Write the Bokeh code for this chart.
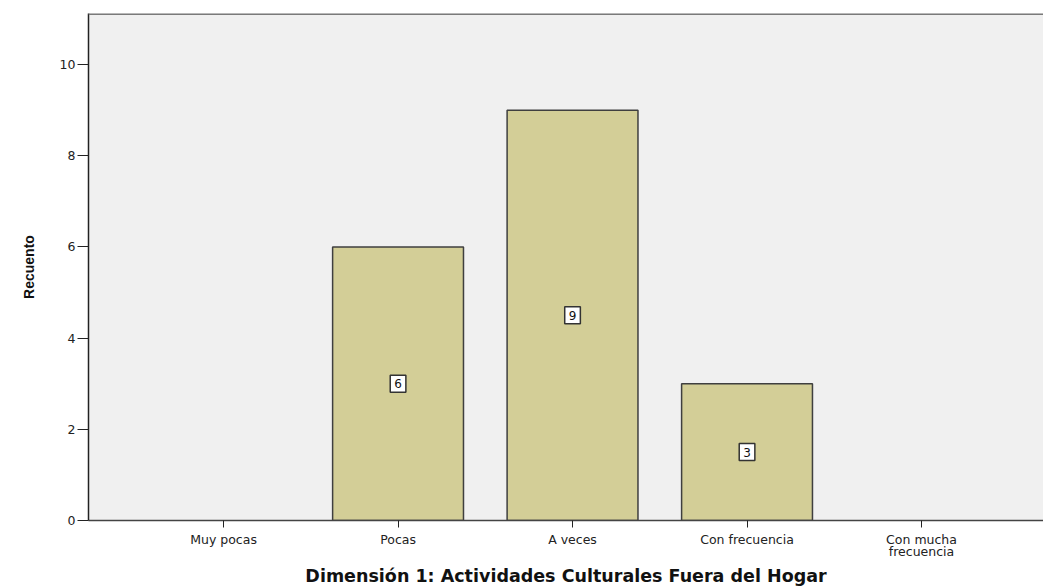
from bokeh.plotting import figure
from bokeh.models import Range1d, FixedTicker, Title, Span, ColumnDataSource
from bokeh.core.properties import value
from bokeh.embed import file_html
from bokeh.resources import INLINE

categories = ["Muy pocas", "Pocas", "A veces", "Con frecuencia", "Con mucha\nfrecuencia"]
counts = [0, 6, 9, 3, 0]
y_ticks = [0, 2, 4, 6, 8, 10]

xs = list(range(len(categories)))
bx = [x for x, c in zip(xs, counts) if c > 0]
bt = [c for c in counts if c > 0]
src = ColumnDataSource(dict(x=bx, top=bt, mid=[c / 2 for c in bt], lab=[str(c) for c in bt]))

p = figure(width=1043, height=586, output_backend="svg", toolbar_location=None,
           x_range=Range1d(-0.774, 4.699), y_range=Range1d(0, 11.12),
           min_border_left=88, min_border_right=0, min_border_top=13, min_border_bottom=66)
p.background_fill_color = "#F0F0F0"
p.border_fill_color = "white"
p.outline_line_color = None
p.grid.visible = False

p.vbar(x="x", top="top", width=0.75, source=src, fill_color="#D3CE97",
       line_color="#3F3F3F", line_width=1.5)

p.text(x="x", y="mid", text="lab", source=src, text_align="center", text_baseline="middle",
       text_font=value("DejaVu Sans"), text_font_size="12px", text_color="#111111",
       background_fill_color="white", border_line_color="#333333", border_line_width=1.5,
       padding=4)

p.add_layout(Span(location=11.12, dimension="width", line_color="#7A7A7A", line_width=3))

# Y axis
ya = p.yaxis[0]
ya.ticker = FixedTicker(ticks=y_ticks)
ya.minor_tick_line_color = None
ya.major_tick_out = 11
ya.major_tick_in = 0
ya.major_tick_line_color = "#222222"
ya.axis_line_color = "#222222"
ya.axis_line_width = 1.5
ya.major_label_text_font = "DejaVu Sans"
ya.major_label_text_font_size = "12.5px"
ya.major_label_text_color = "#222222"
ya.major_label_standoff = 2
ya.axis_label = "Recuento"
ya.axis_label_text_font = "Liberation Sans"
ya.axis_label_text_font_style = "bold"
ya.axis_label_text_font_size = "14px"
ya.axis_label_text_color = "#111111"
ya.axis_label_standoff = 20

# X axis
xa = p.xaxis[0]
xa.ticker = FixedTicker(ticks=xs)
xa.major_label_overrides = {i: c for i, c in zip(xs, categories)}
xa.minor_tick_line_color = None
xa.major_tick_out = 7
xa.major_tick_in = 0
xa.major_tick_line_color = "#222222"
xa.axis_line_color = "#444444"
xa.axis_line_width = 1.5
xa.major_label_text_font = "DejaVu Sans"
xa.major_label_text_font_size = "12.5px"
xa.major_label_text_color = "#222222"
xa.major_label_text_line_height = 0.85
xa.major_label_standoff = 4

t = Title(text="Dimensión 1: Actividades Culturales Fuera del Hogar", align="center",
          text_font="DejaVu Sans", text_font_style="bold", text_font_size="17.5px",
          text_color="#111111", standoff=2)
p.add_layout(t, "below")

open("out.html", "w").write(file_html(p, INLINE))
